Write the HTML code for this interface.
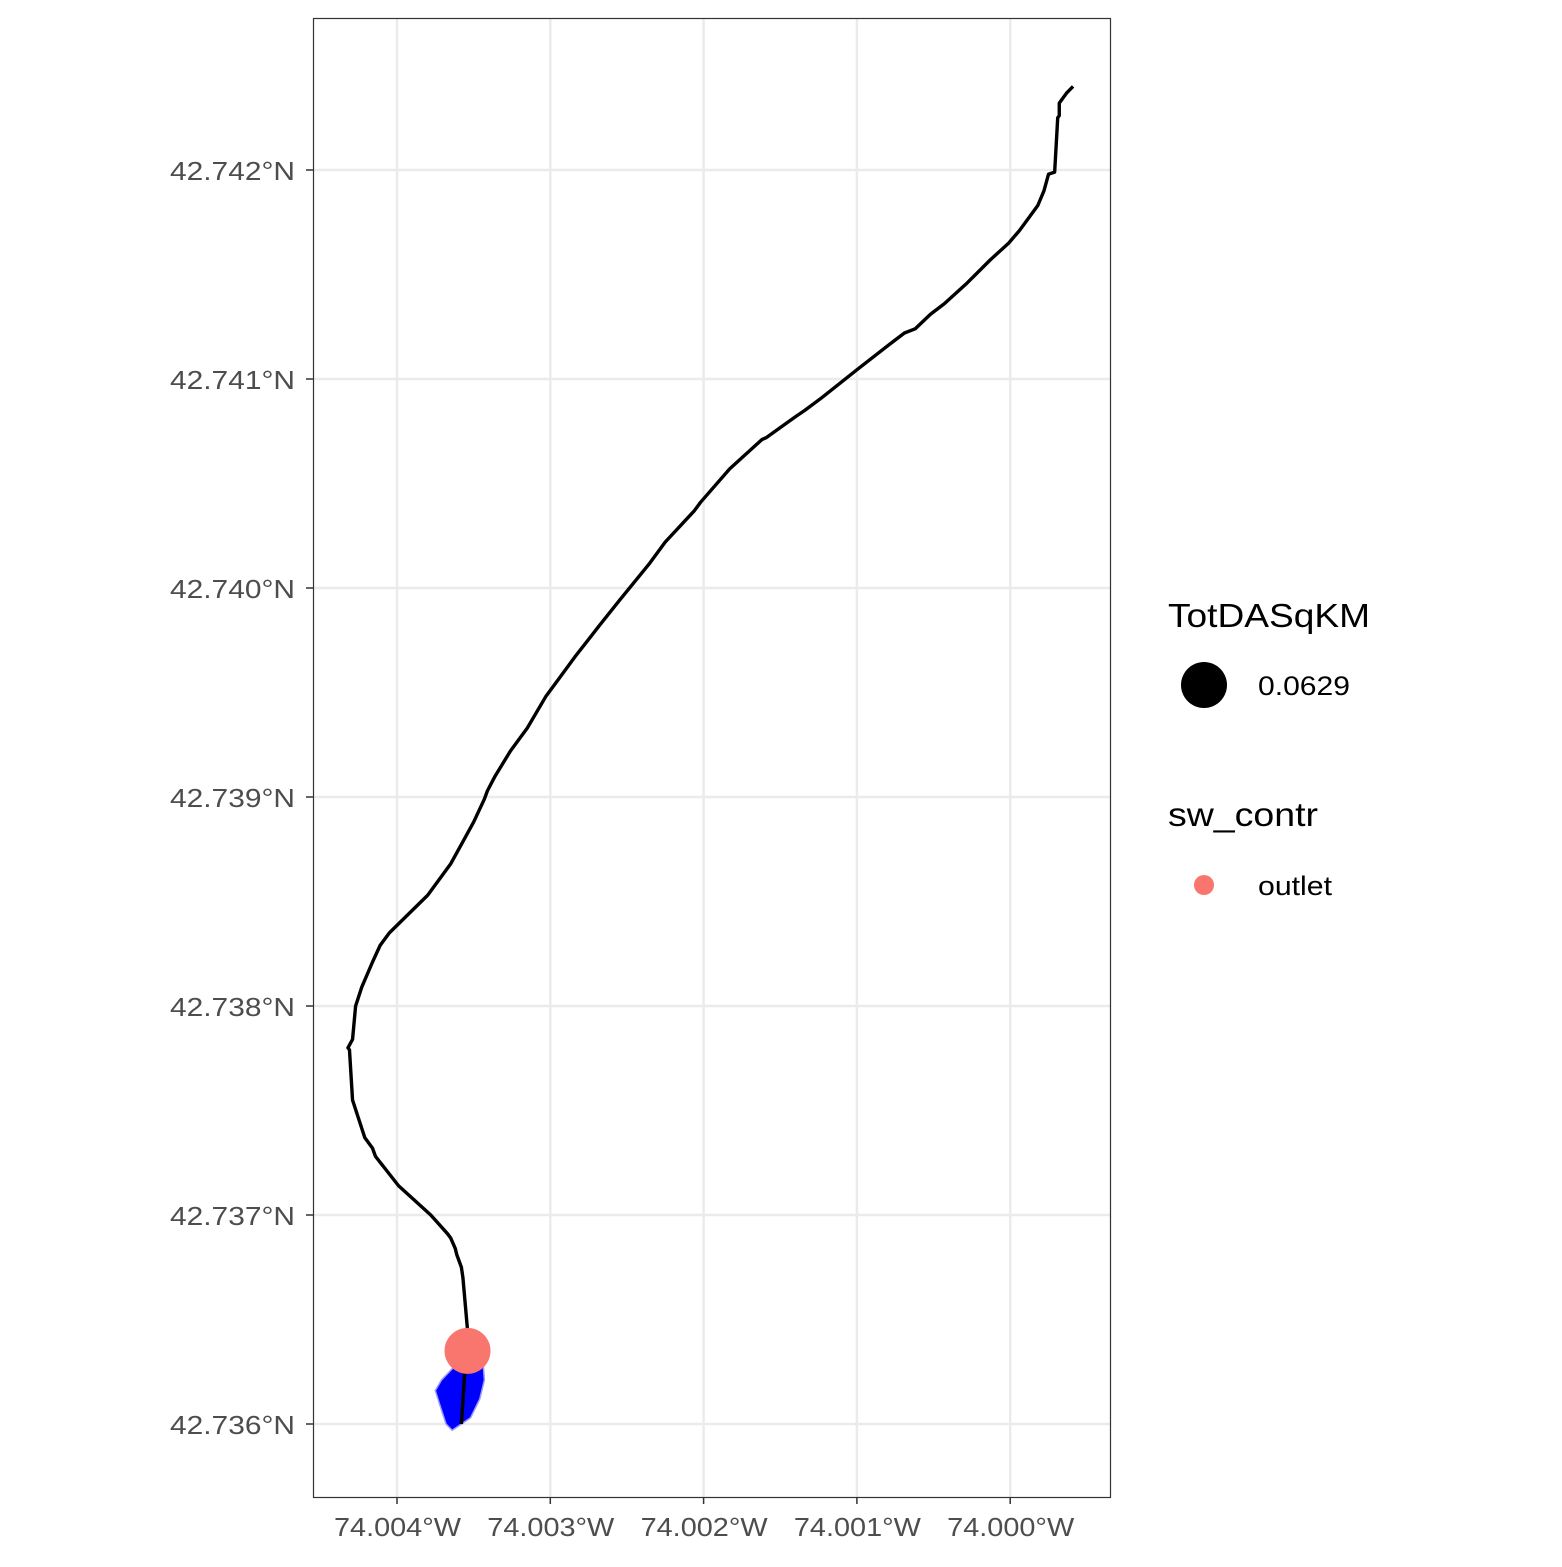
<!DOCTYPE html>
<html><head><meta charset="utf-8"><style>
body{margin:0;background:#fff}
svg text{font-family:"Liberation Sans",Arial,sans-serif}
</style></head><body>
<svg id="chart" width="1562" height="1562" xmlns="http://www.w3.org/2000/svg">
<rect width="1562" height="1562" fill="#fff"/>
<g id="grid"></g>
<g id="marks"></g>
<rect x="313.5" y="18.5" width="797" height="1479" fill="none" stroke="#333" stroke-width="1.2"/>
<g id="axes"></g>
<g>
<text x="1168" y="627" font-size="33" textLength="202" lengthAdjust="spacingAndGlyphs" fill="#000">TotDASqKM</text>
<circle cx="1204" cy="685" r="23" fill="#000"/>
<text x="1258" y="695" font-size="27" textLength="92" lengthAdjust="spacingAndGlyphs" fill="#000">0.0629</text>
<text x="1168" y="826" font-size="33" textLength="150" lengthAdjust="spacingAndGlyphs" fill="#000">sw_contr</text>
<circle cx="1204" cy="885" r="10" fill="#F8766D"/>
<text x="1258" y="895" font-size="27" textLength="74" lengthAdjust="spacingAndGlyphs" fill="#000">outlet</text>
</g>
</svg>
<script>
const lonTicks=[-74.004,-74.003,-74.002,-74.001,-74.000];
const lonTickLabels=["74.004°W","74.003°W","74.002°W","74.001°W","74.000°W"];
const latTicks=[42.736,42.737,42.738,42.739,42.740,42.741,42.742];
const latTickLabels=["42.736°N","42.737°N","42.738°N","42.739°N","42.740°N","42.741°N","42.742°N"];
const streamLon=[-73.99959,-73.99963,-73.99968,-73.99968,-73.99969,-73.99971,-73.99975,-73.99978,-73.99982,-73.99987,-73.99994,-74.00001,-74.00013,-74.00028,-74.00043,-74.00052,-74.00062,-74.00069,-74.00078,-74.00099,-74.00111,-74.00123,-74.00134,-74.00140,-74.00159,-74.00162,-74.00183,-74.00202,-74.00206,-74.00225,-74.00235,-74.00255,-74.00268,-74.00284,-74.00295,-74.00303,-74.00315,-74.00326,-74.00336,-74.00341,-74.00343,-74.00350,-74.00359,-74.00365,-74.00380,-74.00405,-74.00411,-74.00416,-74.00423,-74.00427,-74.00429,-74.00432,-74.00431,-74.00429,-74.00425,-74.00421,-74.00416,-74.00414,-74.00399,-74.00378,-74.00367,-74.00365,-74.00362,-74.00361,-74.00358,-74.00357,-74.00354,-74.00358];
const streamLat=[42.74240,42.74237,42.74232,42.74226,42.74225,42.74199,42.74198,42.74190,42.74183,42.74178,42.74171,42.74165,42.74157,42.74146,42.74136,42.74131,42.74124,42.74122,42.74117,42.74105,42.74098,42.74091,42.74085,42.74082,42.74072,42.74071,42.74057,42.74041,42.74037,42.74022,42.74012,42.73994,42.73982,42.73967,42.73956,42.73948,42.73933,42.73922,42.73910,42.73903,42.73899,42.73888,42.73876,42.73868,42.73853,42.73835,42.73829,42.73821,42.73809,42.73800,42.73784,42.73780,42.73779,42.73755,42.73746,42.73737,42.73732,42.73728,42.73714,42.73700,42.73691,42.73689,42.73684,42.73681,42.73675,42.73670,42.73645,42.73600];
const catchLon=[-74.00358,-74.00364,-74.00368,-74.00372,-74.00375,-74.00371,-74.00362,-74.00352,-74.00344,-74.00343,-74.00346,-74.00352];
const catchLat=[42.73600,42.73597,42.73600,42.73609,42.73616,42.73621,42.73628,42.73631,42.73631,42.73621,42.73612,42.73603];
const outletLon=[-74.00354];
const outletLat=[42.73635];

const NS="http://www.w3.org/2000/svg";
const X=lon=>397+(lon+74.004)/0.001*153.3;
const Y=lat=>170+(42.742-lat)/0.001*209;
function mk(tag,attrs,parent){const e=document.createElementNS(NS,tag);for(const k in attrs)e.setAttribute(k,attrs[k]);parent.appendChild(e);return e;}
const grid=document.getElementById('grid'),axes=document.getElementById('axes'),marks=document.getElementById('marks');
lonTicks.forEach((v,i)=>{
  const gl=mk('line',{x1:X(v),x2:X(v),y1:18,y2:1497,stroke:'#ebebeb','stroke-width':2.5},grid);
  
  
  const t=mk('line',{x1:X(v),x2:X(v),y1:1497,y2:1504,stroke:'#333','stroke-width':1.5},axes);
  
  
  const tx=mk('text',{x:X(v)-63,y:1536,'font-size':26,fill:'#4d4d4d',textLength:127,lengthAdjust:'spacingAndGlyphs'},axes);
  tx.textContent=lonTickLabels[i];
  
  
});
latTicks.forEach((v,i)=>{
  const gl=mk('line',{x1:313,x2:1110,y1:Y(v),y2:Y(v),stroke:'#ebebeb','stroke-width':2.5},grid);
  
  
  const t=mk('line',{x1:306,x2:313,y1:Y(v),y2:Y(v),stroke:'#333','stroke-width':1.5},axes);
  
  
  const tx=mk('text',{x:170,y:Y(v)+10,'font-size':26,fill:'#4d4d4d',textLength:125,lengthAdjust:'spacingAndGlyphs'},axes);
  tx.textContent=latTickLabels[i];
  
  
});
const poly=mk('polygon',{points:catchLon.map((v,i)=>X(v)+','+Y(catchLat[i])).join(' '),fill:'#0000ff',stroke:'#9999ff','stroke-width':1.5},marks);


const line=mk('polyline',{points:streamLon.map((v,i)=>X(v)+','+Y(streamLat[i])).join(' '),fill:'none',stroke:'#000','stroke-width':3.4,'stroke-linejoin':'round'},marks);


outletLon.forEach((v,i)=>{
  const c=mk('circle',{cx:X(v),cy:Y(outletLat[i]),r:23,fill:'#F8766D'},marks);
  
  
});
</script>
</body></html>
